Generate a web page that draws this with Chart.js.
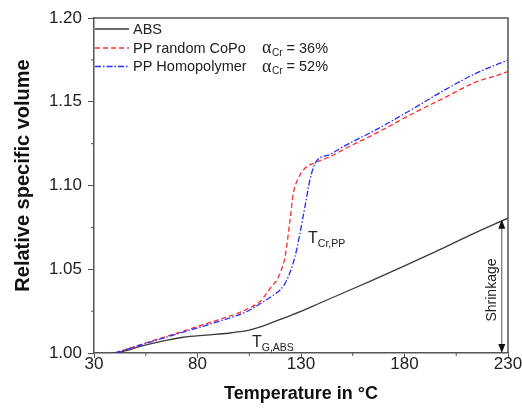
<!DOCTYPE html>
<html><head><meta charset="utf-8">
<script src="https://cdn.jsdelivr.net/npm/chart.js@4.4.1/dist/chart.umd.min.js"></script>
<style>html,body{margin:0;padding:0;background:#fff;overflow:hidden}canvas{display:block}</style>
</head><body>
<canvas id="c" width="522" height="412"></canvas>
<script>
// ---- data ----
const seriesNames = ['ABS', 'PP random CoPo', 'PP Homopolymer'];
const crystallinity = [null, 36, 52];

const absTemp = [40, 45, 52, 62, 73, 84, 95, 100.5, 105, 110, 115, 122, 130, 140, 153.7, 163.3, 180, 195, 212, 230];
const absVol  = [1.000, 1.0012, 1.0038, 1.0068, 1.0094, 1.0107, 1.0118, 1.0127, 1.0137, 1.0155, 1.0177, 1.0210, 1.0248, 1.0303, 1.0376, 1.0428, 1.0520, 1.0605, 1.0705, 1.0805];

const pprTemp = [40, 50, 60, 70, 80, 90, 100, 105, 110, 113.4, 116, 118.3, 120, 122.3, 124.7, 126.3, 128.7, 131.9, 136.8, 144, 152.9, 166.6, 182.7, 198.7, 214.9, 222.9, 230];
const pprVol  = [1.000, 1.0040, 1.0080, 1.0118, 1.0158, 1.0198, 1.0240, 1.0268, 1.0305, 1.0356, 1.0400, 1.0436, 1.0480, 1.0575, 1.0794, 1.0953, 1.1043, 1.1103, 1.1136, 1.1172, 1.1230, 1.1314, 1.1421, 1.1520, 1.1620, 1.1650, 1.1680];

const pphTemp = [40, 50, 60, 70, 80, 90, 100, 105, 111.8, 116, 119.9, 122, 123.9, 125.5, 127.1, 129.5, 131.9, 134.3, 135.9, 137.6, 144, 150.4, 166.6, 182.7, 198.7, 214.9, 230];
const pphVol  = [1.000, 1.0038, 1.0076, 1.0113, 1.0150, 1.0188, 1.0228, 1.0255, 1.0306, 1.0340, 1.0376, 1.0410, 1.0456, 1.0510, 1.0575, 1.0715, 1.0873, 1.1033, 1.1103, 1.1148, 1.1185, 1.1232, 1.1335, 1.1448, 1.1565, 1.1672, 1.1749];

const xTickValues = [30, 80, 130, 180, 230];
const xMinorTicks = [55, 105, 155, 205];
const yTickValues = [1.00, 1.05, 1.10, 1.15, 1.20];
const yMinorTicks = [1.025, 1.075, 1.125, 1.175];

// annotation anchors (data units)
const tcrLabel = {x: 133.4, y: 1.0655};
const tgLabel = {x: 106.3, y: 1.0036};
const shrinkLabel = {x: 222.1, y: 1.0376};
const shrinkArrow = {x: 227, from: 1.000, to: 1.0795};

const SANS = '"Liberation Sans", Arial, sans-serif';
Chart.defaults.font.family = SANS;
Chart.defaults.color = '#222';

const toXY = (t, v) => t.map((x, i) => ({x, y: v[i]}));

const decor = {
  id: 'decor',
  afterDraw(chart) {
    const {ctx, chartArea: a, scales: {x, y}} = chart;
    ctx.save();
    // frame top/right
    ctx.strokeStyle = '#555'; ctx.lineWidth = 1.5;
    ctx.beginPath(); ctx.moveTo(a.left, a.top); ctx.lineTo(a.right, a.top); ctx.lineTo(a.right, a.bottom); ctx.stroke();
    // minor ticks
    ctx.lineWidth = 1;
    xMinorTicks.forEach(v => { const p = x.getPixelForValue(v); ctx.beginPath(); ctx.moveTo(p, a.bottom); ctx.lineTo(p, a.bottom + 3); ctx.stroke(); });
    yMinorTicks.forEach(v => { const p = y.getPixelForValue(v); ctx.beginPath(); ctx.moveTo(a.left, p); ctx.lineTo(a.left - 3, p); ctx.stroke(); });

    // y title
    ctx.save();
    ctx.translate(23, (a.top + a.bottom) / 2 - 10);
    ctx.rotate(-Math.PI / 2);
    ctx.font = 'bold 20px ' + SANS; ctx.fillStyle = '#111'; ctx.textAlign = 'center'; ctx.textBaseline = 'middle';
    ctx.fillText('Relative specific volume', 0, 0);
    ctx.restore();

    // legend
    const rows = [a.top + 11, a.top + 30, a.top + 48.5];
    seriesNames.forEach((name, i) => {
      const ds = chart.data.datasets.find(d => d.label === name);
      const ry = rows[i];
      ctx.strokeStyle = ds.borderColor; ctx.lineWidth = ds.borderWidth;
      ctx.setLineDash(ds.borderDash || []);
      ctx.beginPath(); ctx.moveTo(a.left + 1, ry); ctx.lineTo(a.left + 35, ry); ctx.stroke();
      ctx.setLineDash([]);
      ctx.fillStyle = '#222'; ctx.textAlign = 'left'; ctx.textBaseline = 'middle';
      ctx.font = '14.5px ' + SANS;
      ctx.fillText(name, a.left + 39, ry + 0.5);
      if (crystallinity[i] != null) {
        let px = a.left + 168;
        ctx.font = '18px "Liberation Serif", serif';
        ctx.fillText('α', px, ry + 0.5);
        px += ctx.measureText('α').width + 0.5;
        ctx.font = '10px ' + SANS;
        ctx.fillText('Cr', px, ry + 5);
        px += ctx.measureText('Cr').width;
        ctx.font = '14.5px ' + SANS;
        ctx.fillText(' = ' + crystallinity[i] + '%', px, ry + 0.5);
      }
    });

    // T labels
    const subLabel = (pos, main, sub) => {
      const px = x.getPixelForValue(pos.x), py = y.getPixelForValue(pos.y);
      ctx.fillStyle = '#222'; ctx.textAlign = 'left'; ctx.textBaseline = 'alphabetic';
      ctx.font = '16px ' + SANS;
      ctx.fillText(main, px, py);
      const w = ctx.measureText(main).width;
      ctx.font = '10.5px ' + SANS;
      ctx.fillText(sub, px + w, py + 4);
    };
    subLabel(tcrLabel, 'T', 'Cr,PP');
    subLabel(tgLabel, 'T', 'G,ABS');

    // shrinkage text
    ctx.save();
    ctx.translate(x.getPixelForValue(shrinkLabel.x), y.getPixelForValue(shrinkLabel.y));
    ctx.rotate(-Math.PI / 2);
    ctx.font = '14px ' + SANS; ctx.fillStyle = '#222'; ctx.textAlign = 'center'; ctx.textBaseline = 'middle';
    ctx.fillText('Shrinkage', 0, 0);
    ctx.restore();

    // arrow
    const ax = x.getPixelForValue(shrinkArrow.x);
    const y0 = y.getPixelForValue(shrinkArrow.from), y1 = y.getPixelForValue(shrinkArrow.to);
    ctx.strokeStyle = '#555'; ctx.lineWidth = 1;
    ctx.beginPath(); ctx.moveTo(ax, y0 - 6); ctx.lineTo(ax, y1 + 6); ctx.stroke();
    ctx.fillStyle = '#111';
    ctx.beginPath(); ctx.moveTo(ax, y1); ctx.lineTo(ax - 3.5, y1 + 9); ctx.lineTo(ax + 3.5, y1 + 9); ctx.closePath(); ctx.fill();
    ctx.beginPath(); ctx.moveTo(ax, y0); ctx.lineTo(ax - 3.5, y0 - 9); ctx.lineTo(ax + 3.5, y0 - 9); ctx.closePath(); ctx.fill();
    ctx.restore();
  }
};

new Chart(document.getElementById('c'), {
  type: 'scatter',
  data: {
    datasets: [
      {label: seriesNames[2], data: toXY(pphTemp, pphVol), borderColor: '#2a2aff', borderWidth: 1.3, borderDash: [6, 2, 1.5, 2], order: 0},
      {label: seriesNames[1], data: toXY(pprTemp, pprVol), borderColor: '#ff2a2a', borderWidth: 1.3, borderDash: [5, 3], order: 1},
      {label: seriesNames[0], data: toXY(absTemp, absVol), borderColor: '#3a3a3a', borderWidth: 1.3, borderDash: [], order: 2}
    ].map(d => Object.assign(d, {showLine: true, pointRadius: 0, pointHoverRadius: 0, cubicInterpolationMode: 'monotone', fill: false}))
  },
  options: {
    responsive: false,
    animation: false,
    events: [],
    layout: {padding: {top: 18, right: 14, left: 0, bottom: 0}},
    plugins: {legend: {display: false}, tooltip: {enabled: false}},
    scales: {
      x: {
        type: 'linear', min: 30, max: 230,
        afterBuildTicks: s => { s.ticks = xTickValues.map(v => ({value: v})); },
        afterFit: s => { s.height = 59; },
        ticks: {font: {size: 17}, color: '#222', padding: -4, maxRotation: 0, autoSkip: false},
        grid: {drawOnChartArea: false, drawTicks: true, tickLength: 5, color: '#555', lineWidth: 1},
        border: {color: '#555', width: 1.5},
        title: {display: true, text: 'Temperature in °C', font: {size: 18, weight: 'bold'}, color: '#111', padding: {top: 0, bottom: 7}}
      },
      y: {
        type: 'linear', min: 1.0, max: 1.2,
        afterBuildTicks: s => { s.ticks = yTickValues.map(v => ({value: v})); },
        afterFit: s => { s.width = 94; },
        ticks: {font: {size: 17}, color: '#222', padding: 6, callback: v => Number(v).toFixed(2), autoSkip: false},
        grid: {drawOnChartArea: false, drawTicks: true, tickLength: 6, color: '#555', lineWidth: 1},
        border: {color: '#555', width: 1.5}
      }
    }
  },
  plugins: [decor]
});
</script>
</body></html>
